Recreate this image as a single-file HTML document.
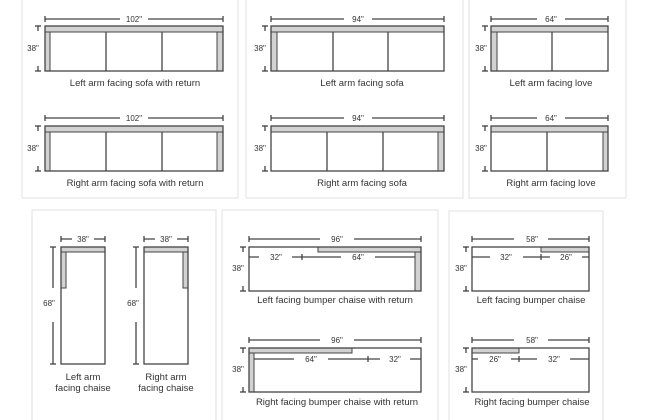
<!DOCTYPE html>
<html><head><style>
html,body{margin:0;padding:0;background:#fff;}
svg{display:block;}
text{font-family:"Liberation Sans",sans-serif;fill:#333;}
.d{font-size:8px;text-anchor:middle;}
.c{font-size:9.5px;text-anchor:middle;}
.l{font-size:8px;text-anchor:middle;}
.k{stroke:#444;stroke-width:1.3;fill:none;}
.g{fill:#d2d2d2;stroke:#444;stroke-width:1;}
.p{fill:none;stroke:#e6e6e6;stroke-width:1.2;}
.w{fill:#fff;}
</style></head><body>
<svg width="650" height="420" viewBox="0 0 650 420" xmlns="http://www.w3.org/2000/svg">
<defs>
<g id="vt"><line x1="-3" y1="0" x2="3" y2="0" stroke="#333" stroke-width="1.2"/><line x1="0" y1="0" x2="0" y2="5" stroke="#333" stroke-width="1.2"/></g>
<g id="vb"><line x1="-3" y1="0" x2="3" y2="0" stroke="#333" stroke-width="1.2"/><line x1="0" y1="0" x2="0" y2="-5" stroke="#333" stroke-width="1.2"/></g>
</defs>
<rect class="p" x="22" y="-2" width="216" height="200"/>
<rect class="p" x="246" y="-2" width="217" height="200"/>
<rect class="p" x="469" y="-2" width="157" height="200"/>
<rect class="p" x="32" y="210" width="184" height="215"/>
<rect class="p" x="222" y="210" width="216" height="215"/>
<rect class="p" x="449" y="211" width="154" height="215"/>

<!-- Sofa with return -->
<g>
<line class="k" x1="45" y1="19" x2="223" y2="19"/><line class="k" x1="45" y1="16" x2="45" y2="22"/><line class="k" x1="223" y1="16" x2="223" y2="22"/>
<rect class="w" x="120" y="16" width="28" height="6"/><text class="d" x="134" y="22">102"</text>
<rect class="g" x="45" y="26" width="178" height="6"/>
<rect class="g" x="45" y="32" width="5" height="39"/>
<rect class="g" x="217" y="32" width="6" height="39"/>
<rect class="k" x="45" y="26" width="178" height="45"/>
<line class="k" x1="106" y1="32" x2="106" y2="71"/><line class="k" x1="162" y1="32" x2="162" y2="71"/>
<use href="#vt" x="38" y="26"/><use href="#vb" x="38" y="71"/><text class="l" x="33" y="51">38"</text>
<text class="c" x="135" y="86">Left arm facing sofa with return</text>
</g>
<g>
<line class="k" x1="45" y1="118" x2="223" y2="118"/><line class="k" x1="45" y1="115" x2="45" y2="121"/><line class="k" x1="223" y1="115" x2="223" y2="121"/>
<rect class="w" x="120" y="115" width="28" height="6"/><text class="d" x="134" y="121">102"</text>
<rect class="g" x="45" y="126" width="178" height="6"/>
<rect class="g" x="45" y="132" width="5" height="39"/>
<rect class="g" x="217" y="132" width="6" height="39"/>
<rect class="k" x="45" y="126" width="178" height="45"/>
<line class="k" x1="106" y1="132" x2="106" y2="171"/><line class="k" x1="162" y1="132" x2="162" y2="171"/>
<use href="#vt" x="38" y="126"/><use href="#vb" x="38" y="171"/><text class="l" x="33" y="151">38"</text>
<text class="c" x="135" y="186">Right arm facing sofa with return</text>
</g>
<!-- Sofa -->
<g>
<line class="k" x1="271" y1="19" x2="444" y2="19"/><line class="k" x1="271" y1="16" x2="271" y2="22"/><line class="k" x1="444" y1="16" x2="444" y2="22"/>
<rect class="w" x="344" y="16" width="28" height="6"/><text class="d" x="358" y="22">94"</text>
<rect class="g" x="271" y="26" width="173" height="6"/>
<rect class="g" x="271" y="32" width="6" height="39"/>
<rect class="k" x="271" y="26" width="173" height="45"/>
<line class="k" x1="333" y1="32" x2="333" y2="71"/><line class="k" x1="388" y1="32" x2="388" y2="71"/>
<use href="#vt" x="265" y="26"/><use href="#vb" x="265" y="71"/><text class="l" x="260" y="51">38"</text>
<text class="c" x="362" y="86">Left arm facing sofa</text>
</g>
<g>
<line class="k" x1="271" y1="118" x2="444" y2="118"/><line class="k" x1="271" y1="115" x2="271" y2="121"/><line class="k" x1="444" y1="115" x2="444" y2="121"/>
<rect class="w" x="344" y="115" width="28" height="6"/><text class="d" x="358" y="121">94"</text>
<rect class="g" x="271" y="126" width="173" height="6"/>
<rect class="g" x="438" y="132" width="6" height="39"/>
<rect class="k" x="271" y="126" width="173" height="45"/>
<line class="k" x1="327" y1="132" x2="327" y2="171"/><line class="k" x1="383" y1="132" x2="383" y2="171"/>
<use href="#vt" x="265" y="126"/><use href="#vb" x="265" y="171"/><text class="l" x="260" y="151">38"</text>
<text class="c" x="362" y="186">Right arm facing sofa</text>
</g>
<!-- Love -->
<g>
<line class="k" x1="491" y1="19" x2="608" y2="19"/><line class="k" x1="491" y1="16" x2="491" y2="22"/><line class="k" x1="608" y1="16" x2="608" y2="22"/>
<rect class="w" x="537" y="16" width="28" height="6"/><text class="d" x="551" y="22">64"</text>
<rect class="g" x="491" y="26" width="117" height="6"/>
<rect class="g" x="491" y="32" width="6" height="39"/>
<rect class="k" x="491" y="26" width="117" height="45"/>
<line class="k" x1="552" y1="32" x2="552" y2="71"/>
<use href="#vt" x="485" y="26"/><use href="#vb" x="485" y="71"/><text class="l" x="481" y="51">38"</text>
<text class="c" x="551" y="86">Left arm facing love</text>
</g>
<g>
<line class="k" x1="491" y1="118" x2="608" y2="118"/><line class="k" x1="491" y1="115" x2="491" y2="121"/><line class="k" x1="608" y1="115" x2="608" y2="121"/>
<rect class="w" x="537" y="115" width="28" height="6"/><text class="d" x="551" y="121">64"</text>
<rect class="g" x="491" y="126" width="117" height="6"/>
<rect class="g" x="603" y="132" width="5" height="39"/>
<rect class="k" x="491" y="126" width="117" height="45"/>
<line class="k" x1="547" y1="132" x2="547" y2="171"/>
<use href="#vt" x="485" y="126"/><use href="#vb" x="485" y="171"/><text class="l" x="481" y="151">38"</text>
<text class="c" x="551" y="186">Right arm facing love</text>
</g>
<!-- Chaises -->
<g>
<line class="k" x1="61" y1="239" x2="105" y2="239"/><line class="k" x1="61" y1="236" x2="61" y2="242"/><line class="k" x1="105" y1="236" x2="105" y2="242"/>
<rect class="w" x="72" y="236" width="22" height="6"/><text class="d" x="83" y="242">38"</text>
<rect class="g" x="61" y="247" width="44" height="5"/>
<rect class="g" x="61" y="252" width="5" height="36"/>
<rect class="k" x="61" y="247" width="44" height="117"/>
<line class="k" x1="53" y1="247" x2="53" y2="288"/><line class="k" x1="53" y1="322" x2="53" y2="364"/>
<line class="k" x1="50" y1="247" x2="56" y2="247"/><line class="k" x1="50" y1="364" x2="56" y2="364"/>
<text class="l" x="49" y="306">68"</text>
<text class="c" x="83" y="380">Left arm</text><text class="c" x="83" y="391">facing chaise</text>
</g>
<g>
<line class="k" x1="144" y1="239" x2="188" y2="239"/><line class="k" x1="144" y1="236" x2="144" y2="242"/><line class="k" x1="188" y1="236" x2="188" y2="242"/>
<rect class="w" x="155" y="236" width="22" height="6"/><text class="d" x="166" y="242">38"</text>
<rect class="g" x="144" y="247" width="44" height="5"/>
<rect class="g" x="183" y="252" width="5" height="36"/>
<rect class="k" x="144" y="247" width="44" height="117"/>
<line class="k" x1="136" y1="247" x2="136" y2="288"/><line class="k" x1="136" y1="322" x2="136" y2="364"/>
<line class="k" x1="133" y1="247" x2="139" y2="247"/><line class="k" x1="133" y1="364" x2="139" y2="364"/>
<text class="l" x="133" y="306">68"</text>
<text class="c" x="166" y="380">Right arm</text><text class="c" x="166" y="391">facing chaise</text>
</g>
<!-- Bumper with return -->
<g>
<line class="k" x1="249" y1="239" x2="421" y2="239"/><line class="k" x1="249" y1="236" x2="249" y2="242"/><line class="k" x1="421" y1="236" x2="421" y2="242"/>
<rect class="w" x="320" y="236" width="34" height="6"/><text class="d" x="337" y="242">96"</text>
<rect class="g" x="318" y="247" width="103" height="5"/>
<rect class="g" x="415" y="252" width="6" height="39"/>
<rect class="k" x="249" y="247" width="172" height="44"/>
<line class="k" x1="249" y1="257" x2="415" y2="257"/><line class="k" x1="302" y1="254" x2="302" y2="260"/>
<rect class="w" x="259" y="255" width="33" height="4"/><rect class="w" x="341" y="255" width="34" height="4"/>
<text class="d" x="276" y="260">32"</text><text class="d" x="358" y="260">64"</text>
<use href="#vt" x="243" y="247"/><use href="#vb" x="243" y="291"/><text class="l" x="238" y="271">38"</text>
<text class="c" x="335" y="303">Left facing bumper chaise with return</text>
</g>
<g>
<line class="k" x1="249" y1="340" x2="421" y2="340"/><line class="k" x1="249" y1="337" x2="249" y2="343"/><line class="k" x1="421" y1="337" x2="421" y2="343"/>
<rect class="w" x="320" y="337" width="34" height="6"/><text class="d" x="337" y="343">96"</text>
<rect class="g" x="249" y="348" width="103" height="5"/>
<rect class="g" x="249" y="353" width="5" height="39"/>
<rect class="k" x="249" y="348" width="172" height="44"/>
<line class="k" x1="254" y1="359" x2="421" y2="359"/><line class="k" x1="368" y1="356" x2="368" y2="362"/>
<rect class="w" x="294" y="357" width="34" height="4"/><rect class="w" x="380" y="357" width="30" height="4"/>
<text class="d" x="311" y="362">64"</text><text class="d" x="395" y="362">32"</text>
<use href="#vt" x="243" y="348"/><use href="#vb" x="243" y="392"/><text class="l" x="238" y="372">38"</text>
<text class="c" x="337" y="405">Right facing bumper chaise with return</text>
</g>
<!-- Bumper chaise -->
<g>
<line class="k" x1="472" y1="239" x2="589" y2="239"/><line class="k" x1="472" y1="236" x2="472" y2="242"/><line class="k" x1="589" y1="236" x2="589" y2="242"/>
<rect class="w" x="514" y="236" width="34" height="6"/><text class="d" x="532" y="242">58"</text>
<rect class="g" x="541" y="247" width="48" height="5"/>
<rect class="k" x="472" y="247" width="117" height="44"/>
<line class="k" x1="472" y1="257" x2="589" y2="257"/><line class="k" x1="541" y1="254" x2="541" y2="260"/>
<rect class="w" x="490" y="255" width="33" height="4"/><rect class="w" x="550" y="255" width="32" height="4"/>
<text class="d" x="506" y="260">32"</text><text class="d" x="566" y="260">26"</text>
<use href="#vt" x="466" y="247"/><use href="#vb" x="466" y="291"/><text class="l" x="461" y="271">38"</text>
<text class="c" x="531" y="303">Left facing bumper chaise</text>
</g>
<g>
<line class="k" x1="472" y1="340" x2="589" y2="340"/><line class="k" x1="472" y1="337" x2="472" y2="343"/><line class="k" x1="589" y1="337" x2="589" y2="343"/>
<rect class="w" x="514" y="337" width="34" height="6"/><text class="d" x="532" y="343">58"</text>
<rect class="g" x="472" y="348" width="47" height="5"/>
<rect class="k" x="472" y="348" width="117" height="44"/>
<line class="k" x1="472" y1="359" x2="589" y2="359"/><line class="k" x1="519" y1="356" x2="519" y2="362"/>
<rect class="w" x="478" y="357" width="33" height="4"/><rect class="w" x="537" y="357" width="33" height="4"/>
<text class="d" x="495" y="362">26"</text><text class="d" x="554" y="362">32"</text>
<use href="#vt" x="466" y="348"/><use href="#vb" x="466" y="392"/><text class="l" x="461" y="372">38"</text>
<text class="c" x="532" y="405">Right facing bumper chaise</text>
</g>
</svg>
</body></html>
